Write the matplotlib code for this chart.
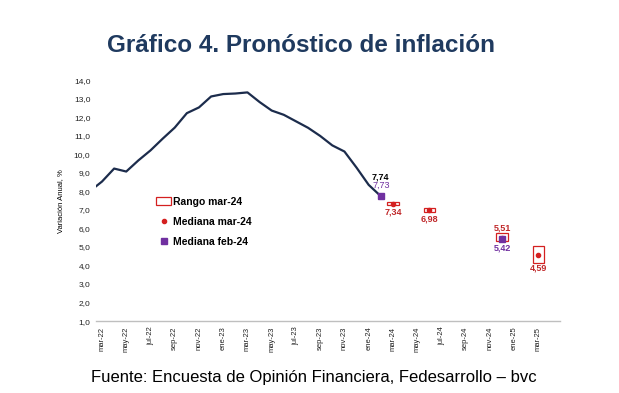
# Gráfico 4 - pronóstico de inflación (Fedesarrollo EOF)
import numpy as np
import matplotlib.pyplot as plt

plt.rcParams['font.family'] = ['Liberation Sans', 'DejaVu Sans']

# meses del eje, desde feb-22 hasta mar-25
meses = ['feb-22', 'mar-22', 'abr-22', 'may-22', 'jun-22', 'jul-22', 'ago-22', 'sep-22',
         'oct-22', 'nov-22', 'dic-22', 'ene-23', 'feb-23', 'mar-23', 'abr-23', 'may-23',
         'jun-23', 'jul-23', 'ago-23', 'sep-23', 'oct-23', 'nov-23', 'dic-23', 'ene-24',
         'feb-24', 'mar-24', 'abr-24', 'may-24', 'jun-24', 'jul-24', 'ago-24', 'sep-24',
         'oct-24', 'nov-24', 'dic-24', 'ene-25', 'feb-25', 'mar-25']

# inflación observada (variación anual, %)
obs_meses = meses[:25]
obs_vals = [8.01, 8.53, 9.23, 9.07, 9.67, 10.21, 10.84, 11.44, 12.22, 12.53, 13.12,
            13.25, 13.28, 13.34, 12.82, 12.36, 12.13, 11.78, 11.43, 10.99, 10.48,
            10.15, 9.28, 8.35, 7.74]

# pronósticos encuesta mar-24
fc_meses = ['mar-24', 'jun-24', 'dic-24', 'mar-25']
mediana_mar = [7.34, 6.98, 5.51, 4.59]
rango_min = [7.26, 6.87, 5.34, 4.16]
rango_max = [7.45, 7.08, 5.77, 5.07]

# mediana encuesta feb-24
feb_meses = ['feb-24', 'dic-24']
mediana_feb = [7.73, 5.42]

tick_labels = meses[1::2]

navy = '#1c2c4c'
red = '#d42020'
red_txt = '#c0282a'
purple = '#7030a0'

xpos = {m: i for i, m in enumerate(meses)}
x_obs = [xpos[m] for m in obs_meses]
x_fc = np.array([xpos[m] for m in fc_meses])
x_feb = [xpos[m] for m in feb_meses]

fig = plt.figure(figsize=(6.19, 3.93), dpi=100)
ax = fig.add_axes([0.155, 0.183, 0.75, 0.613])

ax.plot(x_obs, obs_vals, color=navy, lw=1.6, zorder=3, solid_joinstyle='round')

h_rango = ax.bar(x_fc, np.array(rango_max) - np.array(rango_min), bottom=rango_min, width=0.95,
                 facecolor='white', edgecolor=red, lw=0.9, zorder=2, label='Rango mar-24')
h_mar, = ax.plot(x_fc, mediana_mar, 'o', color=red, ms=3, ls='none', zorder=4, label='Mediana mar-24')
h_feb, = ax.plot(x_feb, mediana_feb, 's', color=purple, ms=5, ls='none', zorder=5, label='Mediana feb-24')

# etiquetas de valores
fmt = lambda v: f'{v:.2f}'.replace('.', ',')
lab_kw = dict(textcoords='offset points', ha='center', va='center', fontsize=6.5, fontweight='bold')
ax.annotate(fmt(obs_vals[-1]), (x_obs[-1], obs_vals[-1]), xytext=(0, 14), color='black', **lab_kw)
ax.annotate(fmt(mediana_feb[0]), (x_feb[0], mediana_feb[0]), xytext=(0, 8), color=purple,
            **{**lab_kw, 'fontweight': 'normal'})
offs_mar = [-6, -6.3, 6.5, -9.5]
for x, v, dy in zip(x_fc, mediana_mar, offs_mar):
    ax.annotate(fmt(v), (x, v), xytext=(0, dy), color=red_txt, **lab_kw)
ax.annotate(fmt(mediana_feb[1]), (x_feb[1], mediana_feb[1]), xytext=(0, -6), color=purple, **lab_kw)

ax.set_xlim(0.5, 38.8)
ax.set_ylim(1, 14)
ax.set_yticks(range(1, 15))
ax.set_yticklabels([f'{v:.1f}'.replace('.', ',') for v in range(1, 15)], fontsize=6)
ax.set_xticks(range(1, len(meses), 2))
ax.set_xticklabels(tick_labels, rotation=90, fontsize=5.5)
ax.tick_params(length=0, pad=4, colors='#222222')
ax.set_ylabel('Variación Anual, %', fontsize=5.5, labelpad=7)

for s in ['top', 'right', 'left']:
    ax.spines[s].set_visible(False)
ax.spines['bottom'].set_color('#bfbfbf')
ax.spines['bottom'].set_linewidth(1)

ax.legend(handles=[h_rango, h_mar, h_feb], loc='upper left', bbox_to_anchor=(0.11, 0.555),
          frameon=False, prop={'size': 7.5, 'weight': 'bold'}, labelspacing=0.95,
          handlelength=1.4, handletextpad=0.2)

fig.text(0.486, 0.885, 'Gráfico 4. Pronóstico de inflación', ha='center', va='center',
         fontsize=17.5, fontweight='bold', color='#1f3a5f')
fig.text(0.507, 0.04, 'Fuente: Encuesta de Opinión Financiera, Fedesarrollo – bvc',
         ha='center', va='center', fontsize=12, color='black')

fig.savefig('out.png', dpi=100)
